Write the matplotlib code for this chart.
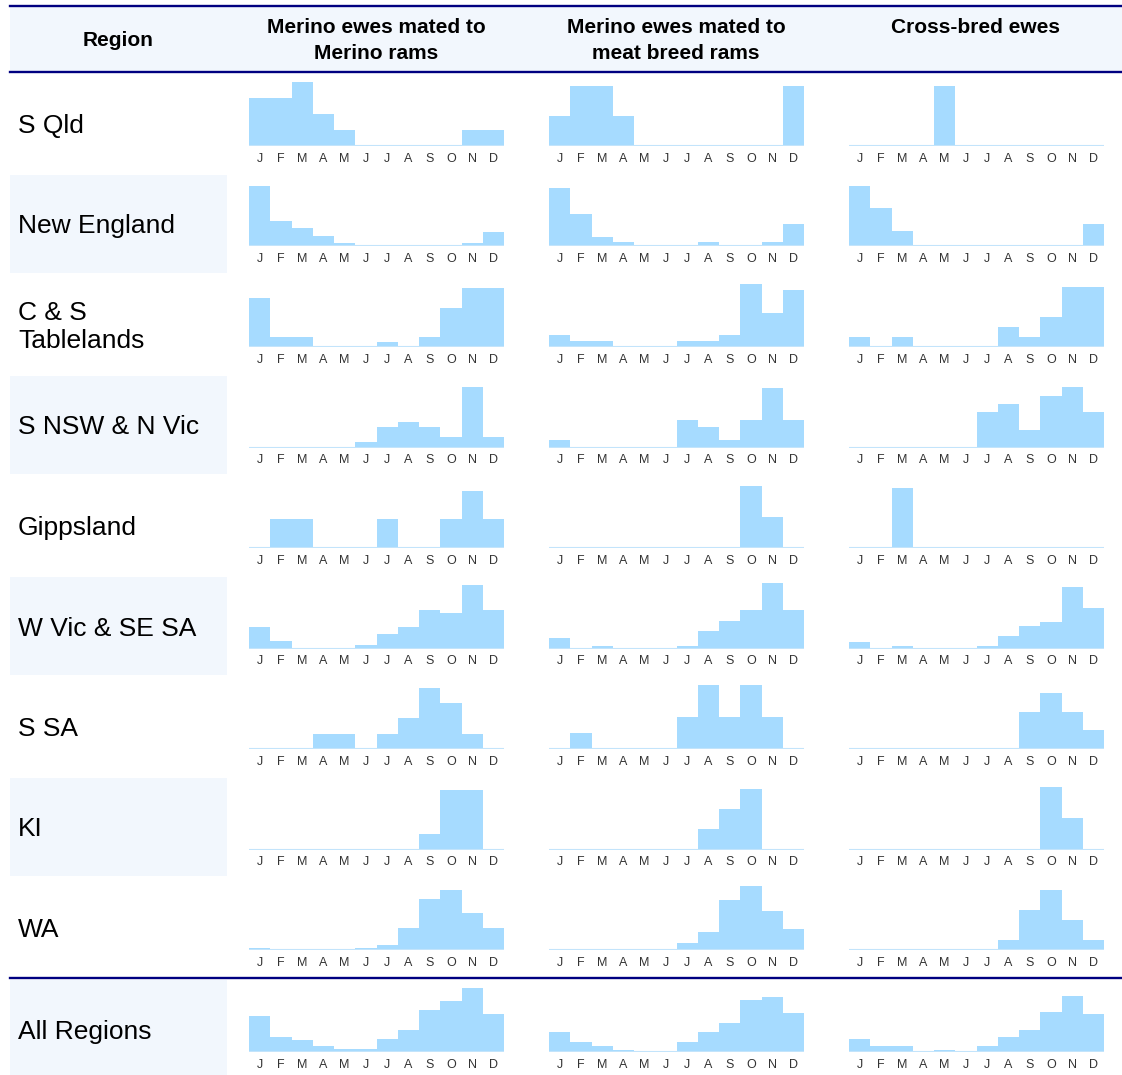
import matplotlib
matplotlib.use("Agg")
import matplotlib.pyplot as plt
from matplotlib.patches import Rectangle

plt.rcParams['font.family'] = ['Liberation Sans', 'DejaVu Sans']

# Table content
months = ['J', 'F', 'M', 'A', 'M', 'J', 'J', 'A', 'S', 'O', 'N', 'D']
regions = ['S Qld', 'New England', 'C & S\nTablelands', 'S NSW & N Vic', 'Gippsland',
           'W Vic & SE SA', 'S SA', 'KI', 'WA', 'All Regions']
headers = ['Merino ewes mated to\nMerino rams', 'Merino ewes mated to\nmeat breed rams',
           'Cross-bred ewes']

# relative share of matings per month
merino_merino = [
    [145, 145, 192, 96, 48, 0, 0, 0, 0, 0, 48, 48],
    [182, 75, 54, 32, 11, 0, 0, 0, 0, 0, 11, 43],
    [147, 30, 30, 0, 0, 0, 15, 0, 30, 118, 177, 177],
    [0, 0, 0, 0, 0, 16, 62, 77, 62, 32, 183, 32],
    [0, 86, 86, 0, 0, 0, 86, 0, 0, 86, 172, 86],
    [64, 23, 2, 2, 2, 11, 43, 65, 117, 107, 191, 117],
    [0, 0, 0, 46, 46, 0, 46, 92, 184, 138, 46, 0],
    [0, 0, 0, 0, 0, 0, 0, 0, 46, 180, 180, 0],
    [7, 0, 0, 0, 0, 7, 14, 66, 152, 181, 110, 66],
    [108, 44, 36, 18, 9, 9, 39, 65, 125, 153, 191, 115],
]
merino_meat = [
    [91, 181, 181, 91, 0, 0, 0, 0, 0, 0, 0, 181],
    [176, 96, 28, 14, 0, 0, 0, 14, 0, 0, 14, 68],
    [35, 18, 18, 0, 0, 0, 18, 18, 35, 189, 103, 172],
    [22, 0, 0, 0, 0, 0, 82, 62, 22, 82, 180, 82],
    [0, 0, 0, 0, 0, 0, 0, 0, 0, 185, 93, 0],
    [32, 2, 9, 2, 2, 2, 9, 54, 84, 115, 198, 115],
    [0, 48, 0, 0, 0, 0, 96, 192, 96, 192, 96, 0],
    [0, 0, 0, 0, 0, 0, 0, 62, 122, 182, 0, 0],
    [0, 0, 0, 0, 0, 0, 22, 55, 150, 193, 118, 64],
    [60, 31, 17, 6, 1, 1, 29, 59, 88, 156, 165, 118],
]
crossbred = [
    [0, 0, 0, 0, 181, 0, 0, 0, 0, 0, 0, 0],
    [180, 114, 45, 0, 0, 0, 0, 0, 0, 0, 0, 68],
    [31, 0, 31, 0, 0, 0, 0, 61, 31, 91, 180, 180],
    [0, 0, 0, 0, 0, 0, 106, 131, 54, 156, 183, 106],
    [0, 0, 180, 0, 0, 0, 0, 0, 0, 0, 0, 0],
    [20, 2, 7, 2, 2, 2, 7, 37, 68, 81, 185, 123],
    [0, 0, 0, 0, 0, 0, 0, 0, 112, 168, 112, 57],
    [0, 0, 0, 0, 0, 0, 0, 0, 0, 187, 94, 0],
    [0, 0, 0, 0, 0, 0, 0, 30, 120, 180, 90, 30],
    [40, 18, 18, 2, 5, 2, 18, 46, 66, 121, 167, 115],
]
columns = [merino_merino, merino_meat, crossbred]

W, H = 1122, 1075
fig = plt.figure(figsize=(W / 100, H / 100), dpi=100)

# background layer in pixel coordinates
bg = fig.add_axes([0, 0, 1, 1])
bg.set_xlim(0, W)
bg.set_ylim(H, 0)
bg.axis('off')

navy = '#000080'
shade = '#f2f7fd'
bar_col = '#a6dbff'

bg.add_patch(Rectangle((10, 6), W - 10, 66, color=shade, lw=0))
bg.plot([10, W], [6, 6], color=navy, lw=1.7)
bg.plot([10, W], [72, 72], color=navy, lw=1.7)
bg.plot([10, W], [978, 978], color=navy, lw=1.7)

bg.text(118, 40, 'Region', ha='center', va='center', fontsize=15, fontweight='bold')
col_x = [249, 549, 849]
for cx, h in zip(col_x, headers):
    bg.text(cx + 127, 18, h, ha='center', va='top', fontsize=15, fontweight='bold',
            linespacing=1.45)

row_h = 100.5
for i, name in enumerate(regions):
    top = 73 + i * row_h
    if i == len(regions) - 1:
        top = 979
    if i % 2 == 1:
        bg.add_patch(Rectangle((10, top + 1), 217, row_h - 2, color=shade, lw=0))
    bg.text(18, top + 53, name, ha='left', va='center', fontsize=19, linespacing=1.2)

    base = top + 73
    for cx, data in zip(col_x, columns):
        ax = fig.add_axes([cx / W, 1 - base / H, 255 / W, 70 / H])
        ax.bar(range(12), data[i], width=1.0, align='edge', color=bar_col, linewidth=0)
        ax.axhline(0, color='#c3e4fb', lw=1.5)
        ax.set_xlim(0, 12)
        ax.set_ylim(0, 210)
        ax.set_xticks([m + 0.5 for m in range(12)])
        ax.set_xticklabels(months, fontsize=9, color='#333333')
        ax.tick_params(axis='x', length=0, pad=5)
        ax.set_yticks([])
        for s in ax.spines.values():
            s.set_visible(False)
        ax.patch.set_alpha(0)

fig.savefig('out.png', dpi=100)
